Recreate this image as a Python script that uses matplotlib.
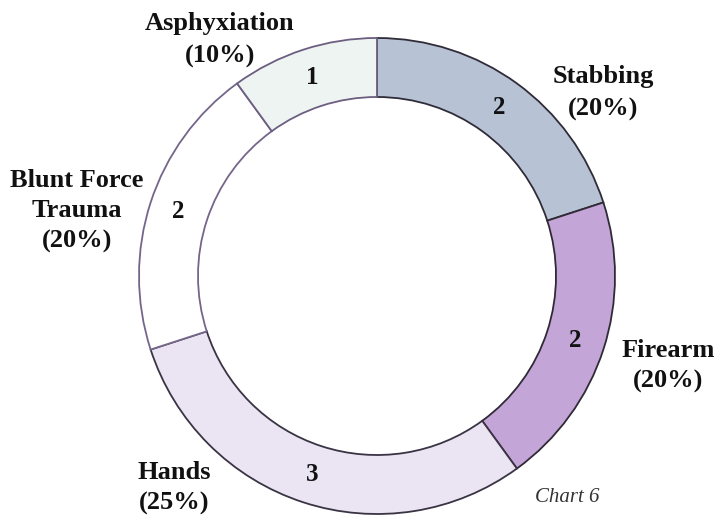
import matplotlib.pyplot as plt

# Data
causes = ['Stabbing', 'Firearm', 'Hands', 'Blunt Force\nTrauma', 'Asphyxiation']
counts = [2, 2, 3, 2, 1]
pct_labels = ['(20%)', '(20%)', '(25%)', '(20%)', '(10%)']

colors = ['#b8c2d5', '#c4a5d8', '#ebe4f2', '#ffffff', '#eef4f2']
edge_colors = ['#2f2c38', '#2f2a36', '#3a3344', '#74668a', '#6c5e80']

# label positions in pixel coords (x, y from top)
label_pos = [(603, 93), (668, 366), (174, 488), (77, 211), (220, 40)]
label_spacing = [1.55, 1.4, 1.4, 1.38, 1.55]

W, H = 716, 515
fig = plt.figure(figsize=(W / 100, H / 100), dpi=100)
ax = fig.add_axes([0, 0, 1, 1])

total = sum(counts)
wedges, _, nums = ax.pie(
    counts,
    colors=colors,
    startangle=90,
    counterclock=False,
    center=(377, H - 276),
    radius=238,
    autopct=lambda p: f'{round(p * total / 100)}',
    pctdistance=0.877,
    wedgeprops=dict(width=59, linewidth=1.3),
    textprops=dict(family='Liberation Serif', fontweight='bold', fontsize=18, color='#111111'),
)
for w, ec in zip(wedges, edge_colors):
    w.set_edgecolor(ec)

for name, pct, (x, y), ls in zip(causes, pct_labels, label_pos, label_spacing):
    ax.text(x, H - y, f'{name}\n{pct}', ha='center', va='center',
            family='Liberation Serif', fontweight='bold', fontsize=19,
            color='#111111', linespacing=ls)

ax.text(567, H - 498, 'Chart 6', ha='center', va='center',
        family='Liberation Serif', style='italic', fontsize=15, color='#333333')

ax.set_xlim(0, W)
ax.set_ylim(0, H)
ax.set_aspect('equal')
ax.axis('off')

fig.savefig('out.png', dpi=100, facecolor='white')
